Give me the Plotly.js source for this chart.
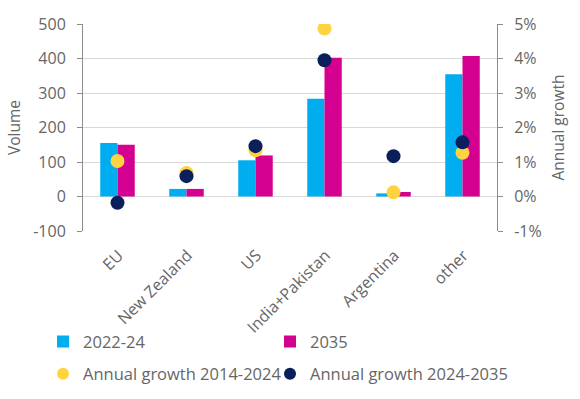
<!DOCTYPE html>
<html>
<head>
<meta charset="utf-8">
<script src="https://cdn.plot.ly/plotly-3.0.1.min.js"></script>
<style>html,body{margin:0;padding:0;background:#fff;}#chart{width:580px;height:399px;}</style>
</head>
<body>
<div id="chart"></div>
<script>
const categories = ["EU", "New Zealand", "US", "India+Pakistan", "Argentina", "other"];
const volume2022_24 = [155, 22, 105, 283, 9, 354];
const volume2035 = [150, 22, 119, 402, 13, 407];
const growth2014_2024 = [0.0103, 0.0068, 0.0134, 0.0487, 0.0012, 0.0127];
const growth2024_2035 = [-0.0018, 0.0059, 0.0146, 0.0395, 0.0117, 0.0157];
const yTickVals = [-100, 0, 100, 200, 300, 400, 500];
const yTickText = ["-100", "0", "100", "200", "300", "400", "500"];
const y2TickVals = [-0.01, 0, 0.01, 0.02, 0.03, 0.04, 0.05];
const y2TickText = ["-1%", "0%", "1%", "2%", "3%", "4%", "5%"];

const xPos = categories.map((c, i) => i);
const fontFam = "Open Sans, Noto Sans, sans-serif";
const txt = "#666666";
const axisCol = "#8c8c8c";

const traces = [
  {type: "bar", name: "2022-24", x: xPos, y: volume2022_24, marker: {color: "#00AEEF"}, legend: "legend"},
  {type: "bar", name: "2035", x: xPos, y: volume2035, marker: {color: "#D4008F"}, legend: "legend2"},
  {type: "scatter", mode: "markers", name: "Annual growth 2014-2024", x: xPos, y: growth2014_2024, yaxis: "y2",
   marker: {color: "#FFD33F", size: 14}, legend: "legend3"},
  {type: "scatter", mode: "markers", name: "Annual growth 2024-2035", x: xPos, y: growth2024_2035, yaxis: "y2",
   marker: {color: "#0A1F5C", size: 14}, legend: "legend4"}
];

function leg(x, y) {
  return {orientation: "h", x: x, xanchor: "left", y: y, yanchor: "middle",
    font: {size: 16.5, color: txt}, bgcolor: "rgba(0,0,0,0)", itemwidth: 30, itemsizing: "constant"};
}

const layout = {
  width: 580, height: 399,
  margin: {l: 83, r: 83, t: 24, b: 168, autoexpand: false},
  paper_bgcolor: "#fff", plot_bgcolor: "#fff",
  font: {family: fontFam, color: txt, size: 14},
  barmode: "group", bargap: 0.5, bargroupgap: 0,
  showlegend: true,
  xaxis: {
    range: [-0.5, 5.5], tickmode: "array", tickvals: xPos, ticktext: categories,
    tickangle: -45, ticks: "", showgrid: false, zeroline: false, showline: false,
    tickfont: {size: 16, color: txt}, ticklabelstandoff: 11, ticklabelshift: 1,
    automargin: false
  },
  xaxis2: {
    overlaying: "x", anchor: "free", position: 100/600, range: [-0.5, 5.5],
    tickmode: "array", tickvals: [0.5, 1.5, 2.5, 3.5, 4.5], showticklabels: false,
    ticks: "outside", ticklen: 5, tickcolor: axisCol, tickwidth: 1,
    showline: true, linecolor: axisCol, linewidth: 1, showgrid: false, zeroline: false
  },
  yaxis: {
    range: [-100, 500], tickmode: "array", tickvals: yTickVals, ticktext: yTickText,
    showgrid: true, gridcolor: "#d9d9d9", gridwidth: 1, zeroline: false,
    showline: true, linecolor: axisCol, ticks: "outside", ticklen: 5, tickcolor: axisCol,
    tickfont: {size: 16, color: txt}, ticklabelstandoff: 8,
    title: {text: "Volume", font: {size: 15.5, color: txt}, standoff: 8}
  },
  yaxis2: {
    overlaying: "y", side: "right", range: [-0.01, 0.05], tickmode: "array",
    tickvals: y2TickVals, ticktext: y2TickText, showgrid: false, zeroline: false,
    showline: true, linecolor: axisCol, ticks: "outside", ticklen: 5, tickcolor: axisCol,
    tickfont: {size: 16, color: txt}, ticklabelstandoff: 8,
    title: {text: "Annual growth", font: {size: 15.5, color: txt}, standoff: 12}
  },
  legend: leg(-0.0966, -0.535),
  legend2: leg(0.4517, -0.535),
  legend3: leg(-0.0966, -0.691),
  legend4: leg(0.4517, -0.691)
};

Plotly.newPlot("chart", traces, layout, {displayModeBar: false, staticPlot: true});
</script>
</body>
</html>
